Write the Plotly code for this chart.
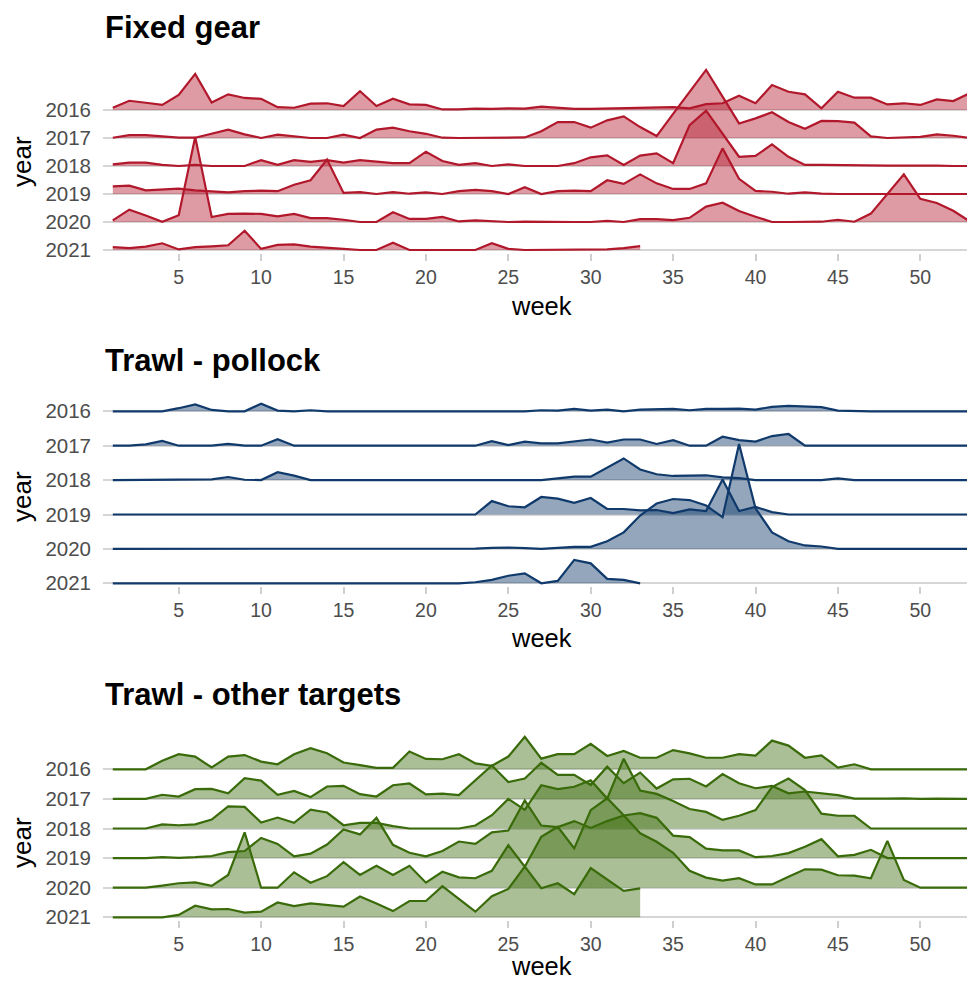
import plotly.graph_objects as go

W, H = 967, 982

weeks = list(range(1, 54))
years = [2016, 2017, 2018, 2019, 2020, 2021]
week_ticks = [5, 10, 15, 20, 25, 30, 35, 40, 45, 50]
panel_titles = ["Fixed gear", "Trawl - pollock", "Trawl - other targets"]

# ---- Fixed gear (relative weekly activity, in ridge units) ----
fixed_2016 = [0.08, 0.33, 0.26, 0.18, 0.54, 1.29, 0.27, 0.56, 0.43, 0.40, 0.10, 0.08, 0.23, 0.24, 0.14, 0.67, 0.14, 0.40, 0.20, 0.18,
              0.02, 0.02, 0.05, 0.04, 0.06, 0.05, 0.12, 0.08, 0.04, 0.04, 0.05, 0.05, 0.06, 0.07, 0.10, 0.06, 0.21, 0.24, 0.51, 0.24,
              0.89, 0.65, 0.56, 0.06, 0.65, 0.44, 0.44, 0.20, 0.24, 0.18, 0.38, 0.32, 0.60]
fixed_2017 = [0.01, 0.10, 0.10, 0.06, 0.01, 0.01, 0.15, 0.30, 0.13, 0.00, 0.12, 0.06, 0.00, 0.00, 0.12, 0.00, 0.30, 0.37, 0.24, 0.15,
              0.01, 0.00, 0.00, 0.01, 0.02, 0.02, 0.24, 0.57, 0.57, 0.37, 0.63, 0.77, 0.39, 0.07, 0.86, 1.64, 2.43, 1.48, 0.52, 0.70,
              0.92, 0.57, 0.33, 0.61, 0.60, 0.55, 0.06, 0.00, 0.01, 0.04, 0.13, 0.08, 0.00]
fixed_2018 = [0.06, 0.12, 0.12, 0.04, 0.00, 0.04, 0.00, 0.00, 0.00, 0.21, 0.04, 0.21, 0.15, 0.21, 0.12, 0.21, 0.15, 0.10, 0.10, 0.51,
              0.18, 0.04, 0.10, 0.00, 0.06, 0.00, 0.00, 0.00, 0.10, 0.31, 0.38, 0.04, 0.37, 0.45, 0.10, 1.46, 1.98, 1.15, 0.33, 0.36,
              0.77, 0.33, 0.04, 0.04, 0.03, 0.02, 0.00, 0.01, 0.01, 0.02, 0.01, 0.00, 0.00]
fixed_2019 = [0.27, 0.30, 0.13, 0.17, 0.19, 0.13, 0.10, 0.06, 0.10, 0.12, 0.10, 0.33, 0.49, 1.23, 0.04, 0.07, 0.00, 0.07, 0.01, 0.06,
              0.00, 0.10, 0.15, 0.10, 0.00, 0.24, 0.00, 0.10, 0.12, 0.10, 0.49, 0.36, 0.70, 0.38, 0.18, 0.18, 0.38, 1.63, 0.54, 0.11,
              0.08, 0.01, 0.06, 0.01, 0.00, 0.00, 0.00, 0.00, 0.00, 0.00, 0.00, 0.00, 0.00]
fixed_2020 = [0.06, 0.44, 0.23, 0.01, 0.24, 3.04, 0.18, 0.29, 0.30, 0.29, 0.20, 0.29, 0.14, 0.14, 0.08, 0.00, 0.00, 0.35, 0.11, 0.11,
              0.18, 0.02, 0.06, 0.02, 0.00, 0.01, 0.00, 0.00, 0.00, 0.00, 0.04, 0.00, 0.10, 0.10, 0.07, 0.15, 0.55, 0.69, 0.39, 0.19,
              0.00, 0.00, 0.00, 0.01, 0.08, 0.01, 0.30, 1.01, 1.70, 0.83, 0.68, 0.40, 0.02]
fixed_2021 = [0.10, 0.07, 0.12, 0.24, 0.02, 0.10, 0.13, 0.17, 0.69, 0.04, 0.18, 0.20, 0.12, 0.07, 0.04, 0.00, 0.00, 0.26, 0.00, 0.00,
              0.00, 0.00, 0.00, 0.24, 0.04, 0.00, 0.00, 0.00, 0.00, 0.01, 0.02, 0.07, 0.14]

# ---- Trawl - pollock ----
pollock_2016 = [0.00, 0.00, 0.00, 0.00, 0.09, 0.20, 0.04, 0.00, 0.00, 0.22, 0.02, 0.00, 0.03, 0.00, 0.00, 0.00, 0.00, 0.00, 0.00, 0.02,
                0.00, 0.00, 0.00, 0.00, 0.00, 0.00, 0.03, 0.02, 0.07, 0.02, 0.05, 0.00, 0.05, 0.06, 0.07, 0.03, 0.07, 0.07, 0.08, 0.05,
                0.13, 0.16, 0.14, 0.12, 0.02, 0.00, 0.00, 0.00, 0.00, 0.00, 0.00, 0.00, 0.00]
pollock_2017 = [0.00, 0.00, 0.04, 0.14, 0.00, 0.00, 0.00, 0.05, 0.00, 0.00, 0.19, 0.00, 0.00, 0.00, 0.00, 0.00, 0.00, 0.00, 0.00, 0.00,
                0.00, 0.00, 0.00, 0.13, 0.02, 0.12, 0.07, 0.07, 0.12, 0.18, 0.09, 0.18, 0.18, 0.05, 0.16, 0.00, 0.00, 0.26, 0.16, 0.12,
                0.28, 0.34, 0.00, 0.00, 0.00, 0.00, 0.00, 0.00, 0.00, 0.00, 0.00, 0.00, 0.00]
pollock_2018 = [0.00, 0.00, 0.00, 0.00, 0.00, 0.00, 0.02, 0.09, 0.01, 0.00, 0.23, 0.13, 0.00, 0.00, 0.00, 0.00, 0.00, 0.00, 0.00, 0.00,
                0.00, 0.00, 0.00, 0.00, 0.00, 0.00, 0.00, 0.05, 0.10, 0.10, 0.37, 0.63, 0.31, 0.17, 0.12, 0.12, 0.14, 0.08, 0.06, 0.00,
                0.00, 0.00, 0.00, 0.00, 0.05, 0.00, 0.00, 0.00, 0.00, 0.00, 0.00, 0.00, 0.00]
pollock_2019 = [0.00, 0.00, 0.00, 0.00, 0.00, 0.02, 0.00, 0.00, 0.00, 0.00, 0.00, 0.00, 0.00, 0.00, 0.00, 0.00, 0.00, 0.00, 0.00, 0.00,
                0.00, 0.00, 0.00, 0.39, 0.24, 0.21, 0.51, 0.46, 0.34, 0.48, 0.16, 0.16, 0.12, 0.13, 0.04, 0.15, 0.10, 1.02, 0.10, 0.22,
                0.07, 0.00, 0.00, 0.00, 0.00, 0.00, 0.00, 0.00, 0.00, 0.00, 0.00, 0.00, 0.00]
pollock_2020 = [0.00, 0.00, 0.00, 0.00, 0.00, 0.00, 0.00, 0.00, 0.00, 0.00, 0.00, 0.00, 0.00, 0.00, 0.00, 0.00, 0.00, 0.00, 0.00, 0.00,
                0.00, 0.00, 0.01, 0.03, 0.04, 0.02, 0.00, 0.03, 0.06, 0.06, 0.22, 0.48, 0.97, 1.32, 1.45, 1.42, 1.26, 0.92, 3.05, 1.18,
                0.48, 0.22, 0.10, 0.07, 0.00, 0.00, 0.00, 0.00, 0.00, 0.00, 0.00, 0.00, 0.00]
pollock_2021 = [0.00, 0.00, 0.00, 0.00, 0.00, 0.00, 0.00, 0.00, 0.00, 0.00, 0.00, 0.00, 0.00, 0.00, 0.00, 0.00, 0.00, 0.00, 0.00, 0.00,
                0.00, 0.00, 0.03, 0.10, 0.22, 0.29, 0.00, 0.07, 0.68, 0.58, 0.13, 0.10, 0.00]

# ---- Trawl - other targets ----
other_2016 = [0.00, 0.00, 0.00, 0.29, 0.51, 0.43, 0.06, 0.43, 0.48, 0.26, 0.17, 0.51, 0.71, 0.54, 0.23, 0.14, 0.05, 0.05, 0.60, 0.35,
              0.34, 0.51, 0.20, 0.12, 0.43, 1.10, 0.36, 0.51, 0.51, 0.86, 0.45, 0.62, 0.39, 0.39, 0.65, 0.54, 0.39, 0.39, 0.51, 0.46,
              0.97, 0.80, 0.39, 0.47, 0.06, 0.17, 0.00, 0.00, 0.00, 0.00, 0.00, 0.00, 0.00]
other_2017 = [0.00, 0.00, 0.00, 0.14, 0.08, 0.33, 0.34, 0.19, 0.70, 0.62, 0.14, 0.27, 0.06, 0.42, 0.44, 0.16, 0.08, 0.46, 0.52, 0.15,
              0.18, 0.13, 0.62, 1.13, 0.57, 0.69, 1.22, 0.81, 0.81, 0.47, 1.09, 0.53, 0.89, 0.35, 0.66, 0.68, 0.42, 0.84, 0.53, 0.36,
              0.44, 0.19, 0.25, 0.19, 0.13, 0.01, 0.00, 0.01, 0.02, 0.00, 0.01, 0.00, 0.00]
other_2018 = [0.00, 0.00, 0.00, 0.14, 0.11, 0.14, 0.30, 0.75, 0.73, 0.20, 0.37, 0.19, 0.64, 0.54, 0.11, 0.19, 0.19, 0.08, 0.00, 0.00,
              0.00, 0.00, 0.10, 0.45, 1.00, 0.63, 1.46, 1.33, 1.41, 1.63, 1.01, 2.36, 1.28, 1.17, 0.93, 0.66, 0.56, 0.29, 0.43, 0.62,
              1.40, 1.69, 1.30, 0.50, 0.43, 0.43, 0.00, 0.00, 0.00, 0.00, 0.00, 0.00, 0.00]
other_2019 = [0.00, 0.00, 0.00, 0.03, 0.01, 0.03, 0.07, 0.20, 0.24, 0.68, 0.48, 0.06, 0.15, 0.46, 0.97, 0.80, 1.36, 0.45, 0.18, 0.06,
              0.24, 0.56, 0.48, 0.87, 0.93, 1.95, 1.10, 1.05, 1.25, 1.02, 1.25, 1.44, 1.52, 1.36, 0.76, 0.71, 0.32, 0.26, 0.26, 0.03,
              0.07, 0.17, 0.38, 0.64, 0.06, 0.11, 0.28, 0.00, 0.00, 0.00, 0.00, 0.00, 0.00]
other_2020 = [0.00, 0.00, 0.00, 0.07, 0.15, 0.18, 0.06, 0.43, 1.87, 0.00, 0.00, 0.52, 0.17, 0.39, 0.86, 0.43, 0.74, 0.43, 0.74, 0.17,
              0.54, 0.35, 0.32, 0.57, 1.44, 0.71, 1.72, 2.06, 1.33, 2.62, 3.02, 2.45, 1.84, 1.55, 1.18, 0.57, 0.34, 0.24, 0.32, 0.11,
              0.11, 0.37, 0.62, 0.61, 0.42, 0.41, 0.32, 1.58, 0.26, 0.00, 0.00, 0.00, 0.00]
other_2021 = [0.00, 0.00, 0.00, 0.00, 0.08, 0.39, 0.27, 0.28, 0.16, 0.19, 0.50, 0.38, 0.47, 0.41, 0.36, 0.70, 0.47, 0.21, 0.55, 0.55,
              1.05, 0.62, 0.19, 0.71, 0.96, 1.71, 0.98, 1.15, 0.78, 1.66, 1.26, 0.89, 0.98]

panel_series = [
    [fixed_2016, fixed_2017, fixed_2018, fixed_2019, fixed_2020, fixed_2021],
    [pollock_2016, pollock_2017, pollock_2018, pollock_2019, pollock_2020, pollock_2021],
    [other_2016, other_2017, other_2018, other_2019, other_2020, other_2021],
]

line_colors = ["rgb(178,24,43)", "rgb(16,58,107)", "rgb(58,107,10)"]
fill_colors = ["rgba(178,24,43,0.43)", "rgba(16,58,107,0.45)", "rgba(58,107,10,0.43)"]

# pixel geometry of each panel: bottom baseline, ridge spacing, top of panel
geo = [
    dict(B=250.0, S=28.0, T=55.0, title_y=27, week_y=306, year_y=162),
    dict(B=583.3, S=34.4, T=385.0, title_y=360, week_y=638, year_y=497),
    dict(B=917.3, S=29.6, T=715.0, title_y=694, week_y=966, year_y=843),
]

X_LEFT, X_RIGHT = 103.0, 967.0
WK_PX0, WK_STEP = 112.8, 16.48
x_range = [1 + (X_LEFT - WK_PX0) / WK_STEP, 1 + (X_RIGHT - WK_PX0) / WK_STEP]

FONT = "Liberation Sans, Arial, sans-serif"
fig = go.Figure()
layout = {}
annotations = []

for i, (series_list, g) in enumerate(zip(panel_series, geo)):
    sfx = "" if i == 0 else str(i + 1)
    xa, ya = "x" + sfx, "y" + sfx
    n_years = len(years)
    for k, (yr, vals) in enumerate(zip(years, series_list)):
        base = n_years - 1 - k
        xs = weeks[:len(vals)]
        top = [base + v for v in vals]
        fig.add_trace(go.Scatter(
            x=xs + xs[::-1], y=top + [base] * len(xs), mode="lines", fill="toself",
            fillcolor=fill_colors[i], line=dict(width=0, color="rgba(0,0,0,0)"),
            hoverinfo="skip", showlegend=False, xaxis=xa, yaxis=ya))
        fig.add_trace(go.Scatter(
            x=xs, y=top, mode="lines", line=dict(color=line_colors[i], width=2.2),
            name=str(yr), showlegend=False, xaxis=xa, yaxis=ya))

    pad = 2.5
    bottom_px = g["B"] + pad
    layout["xaxis" + sfx] = dict(
        domain=[X_LEFT / W, X_RIGHT / W], range=x_range, anchor=ya, automargin=False,
        tickmode="array", tickvals=week_ticks, ticks="outside", ticklen=7, tickwidth=1.5,
        tickcolor="#CFCFCF", showgrid=False, zeroline=False, showline=False,
        tickfont=dict(family=FONT, size=19.5, color="#4D4D4D"))
    layout["yaxis" + sfx] = dict(
        domain=[1 - bottom_px / H, 1 - g["T"] / H], automargin=False,
        range=[-pad / g["S"], (g["B"] - g["T"]) / g["S"]], anchor=xa,
        tickmode="array", tickvals=list(range(len(years))), ticktext=[str(y) for y in years[::-1]],
        ticks="", showgrid=True, gridcolor="#D6D6D6", gridwidth=1.6, zeroline=False, showline=False,
        ticklabelstandoff=11, tickfont=dict(family=FONT, size=20.5, color="#4D4D4D"))

    annotations.append(dict(text="<b>" + panel_titles[i] + "</b>", xref="paper", yref="paper",
                            x=X_LEFT / W, y=1 - g["title_y"] / H, xanchor="left", yanchor="middle",
                            showarrow=False, font=dict(family=FONT, size=31, color="#000000")))
    annotations.append(dict(text="week", xref="paper", yref="paper",
                            x=541 / W, y=1 - g["week_y"] / H, xanchor="center", yanchor="middle",
                            showarrow=False, font=dict(family=FONT, size=25.5, color="#000000")))
    annotations.append(dict(text="year", xref="paper", yref="paper", textangle=-90,
                            x=22 / W, y=1 - g["year_y"] / H, xanchor="center", yanchor="middle",
                            showarrow=False, font=dict(family=FONT, size=26, color="#000000")))

fig.update_layout(
    width=W, height=H, margin=dict(l=0, r=0, t=0, b=0, autoexpand=False),
    paper_bgcolor="white", plot_bgcolor="white", showlegend=False,
    annotations=annotations, **layout)

fig.write_html("out.html", config={"displayModeBar": False},
               post_script="document.body.style.margin='0';document.body.style.overflow='hidden';")
